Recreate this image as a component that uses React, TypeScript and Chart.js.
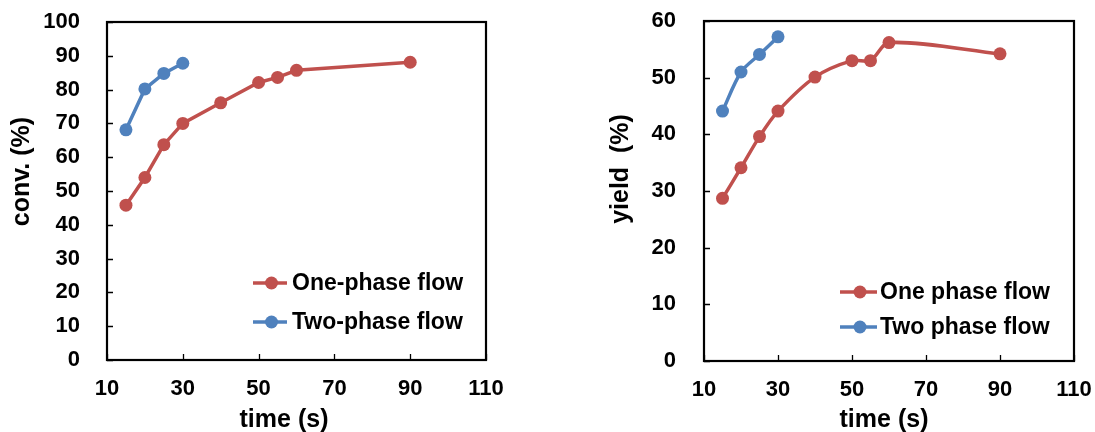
import React, { useEffect, useRef } from "react";
import { Chart, registerables } from "chart.js";

Chart.register(...registerables);

// ---------- data ----------
const timeOnePhase = [15, 20, 25, 30, 40, 50, 55, 60, 90];
const timeTwoPhase = [15, 20, 25, 30];
const convOnePhase = [45.8, 54.0, 63.7, 70.0, 76.1, 82.1, 83.6, 85.7, 88.1];
const convTwoPhase = [68.1, 80.2, 84.8, 87.8];
const yieldOnePhase = [28.7, 34.1, 39.6, 44.1, 50.1, 53.0, 53.0, 56.2, 54.2];
const yieldTwoPhase = [44.1, 51.0, 54.1, 57.2];
const timeTicks = [10, 30, 50, 70, 90, 110];
const convTicks = [0, 10, 20, 30, 40, 50, 60, 70, 80, 90, 100];
const yieldTicks = [0, 10, 20, 30, 40, 50, 60];
const convLegend = ["One-phase flow", "Two-phase flow"];
const yieldLegend = ["One phase flow", "Two phase flow"];
const xTitle = "time (s)";
const convTitle = "conv. (%)";
const yieldTitle = "yield  (%)";

const RED = "#C0504D";
const BLUE = "#4F81BD";
const FONT = "'Liberation Sans', Arial, Helvetica, sans-serif";

type Panel = {
  canvasLeft: number;
  width: number;
  height: number;
  area: { left: number; top: number; right: number; bottom: number };
  yLabelPad: number;
  yTitle: string;
  yTitlePos: [number, number];
  xTitlePos: [number, number];
  legendLine: [number, number];
  legendMarkerX: number;
  legendTextX: number;
  legendRows: [number, number];
  legendLabels: string[];
  yTicks: number[];
  one: number[];
  two: number[];
  tension: number;
};

const panels: Panel[] = [
  {
    canvasLeft: 0,
    width: 540,
    height: 432,
    area: { left: 107, top: 22, right: 486, bottom: 360 },
    yLabelPad: 27,
    yTitle: convTitle,
    yTitlePos: [22, 171.5],
    xTitlePos: [284, 427],
    legendLine: [253, 287],
    legendMarkerX: 271.5,
    legendTextX: 292,
    legendRows: [283, 322],
    legendLabels: convLegend,
    yTicks: convTicks,
    one: convOnePhase,
    two: convTwoPhase,
    tension: 0,
  },
  {
    canvasLeft: 540,
    width: 555,
    height: 432,
    area: { left: 164, top: 21, right: 534, bottom: 361 },
    yLabelPad: 28,
    yTitle: yieldTitle,
    yTitlePos: [81.5, 169],
    xTitlePos: [344, 427],
    legendLine: [300, 337],
    legendMarkerX: 320,
    legendTextX: 340,
    legendRows: [292, 327],
    legendLabels: yieldLegend,
    yTicks: yieldTicks,
    one: yieldOnePhase,
    two: yieldTwoPhase,
    tension: 0.3,
  },
];

function makeDecorPlugin(p: Panel) {
  return {
    id: "decor",
    beforeDatasetsDraw(chart: any) {
      const ctx = chart.ctx;
      const { left, top, right, bottom } = chart.chartArea;
      const xs = chart.scales.x;
      const ys = chart.scales.y;
      ctx.save();
      // inward tick marks
      ctx.strokeStyle = "#000";
      ctx.lineWidth = 1.3;
      ctx.beginPath();
      xs.ticks.forEach((t: any) => {
        const px = Math.round(xs.getPixelForValue(t.value)) + 0.5;
        ctx.moveTo(px, bottom);
        ctx.lineTo(px, bottom - 6);
      });
      ys.ticks.forEach((t: any) => {
        const py = Math.round(ys.getPixelForValue(t.value)) + 0.5;
        ctx.moveTo(left, py);
        ctx.lineTo(left + 6, py);
      });
      ctx.stroke();
      // plot frame
      ctx.lineWidth = 2.2;
      ctx.strokeRect(left, top, right - left, bottom - top);
      ctx.restore();
    },
    afterDraw(chart: any) {
      const ctx = chart.ctx;
      ctx.save();
      ctx.fillStyle = "#000";
      // axis titles
      ctx.font = `bold 25px ${FONT}`;
      ctx.textAlign = "center";
      ctx.textBaseline = "alphabetic";
      ctx.fillText(xTitle, p.xTitlePos[0], p.xTitlePos[1]);
      ctx.save();
      ctx.translate(p.yTitlePos[0], p.yTitlePos[1]);
      ctx.rotate(-Math.PI / 2);
      ctx.textBaseline = "middle";
      ctx.fillText(p.yTitle, 0, 0);
      ctx.restore();
      // legend
      const ds = chart.data.datasets;
      ds.forEach((d: any, i: number) => {
        const y = p.legendRows[i];
        ctx.strokeStyle = d.borderColor;
        ctx.lineWidth = 3.5;
        ctx.beginPath();
        ctx.moveTo(p.legendLine[0], y);
        ctx.lineTo(p.legendLine[1], y);
        ctx.stroke();
        ctx.fillStyle = d.borderColor;
        ctx.beginPath();
        ctx.arc(p.legendMarkerX, y, 6.5, 0, Math.PI * 2);
        ctx.fill();
        ctx.fillStyle = "#000";
        ctx.font = `bold 23px ${FONT}`;
        ctx.textAlign = "left";
        ctx.textBaseline = "middle";
        ctx.fillText(d.label, p.legendTextX, y + 1);
      });
      ctx.restore();
    },
  };
}

function PanelChart({ p }: { p: Panel }) {
  const ref = useRef<HTMLCanvasElement | null>(null);
  useEffect(() => {
    if (!ref.current) return;
    const mk = (xs: number[], ys: number[]) => xs.map((x, i) => ({ x, y: ys[i] }));
    const chart = new Chart(ref.current, {
      type: "line",
      data: {
        datasets: [
          {
            label: p.legendLabels[0],
            data: mk(timeOnePhase, p.one),
            borderColor: RED,
            backgroundColor: RED,
            pointBackgroundColor: RED,
            pointBorderColor: RED,
            pointBorderWidth: 0,
            pointRadius: 6.5,
            borderWidth: 3.5,
            tension: p.tension,
            fill: false,
          },
          {
            label: p.legendLabels[1],
            data: mk(timeTwoPhase, p.two),
            borderColor: BLUE,
            backgroundColor: BLUE,
            pointBackgroundColor: BLUE,
            pointBorderColor: BLUE,
            pointBorderWidth: 0,
            pointRadius: 6.5,
            borderWidth: 3.5,
            tension: p.tension,
            fill: false,
          },
        ],
      },
      options: {
        responsive: false,
        animation: false,
        devicePixelRatio: 1,
        layout: {
          padding: {
            left: 0,
            top: p.area.top,
            right: p.width - p.area.right,
            bottom: 0,
          },
        },
        plugins: {
          legend: { display: false },
          tooltip: { enabled: false },
        },
        scales: {
          x: {
            type: "linear",
            min: timeTicks[0],
            max: timeTicks[timeTicks.length - 1],
            afterBuildTicks: (s: any) => {
              s.ticks = timeTicks.map((v) => ({ value: v }));
            },
            afterFit: (s: any) => {
              s.height = p.height - p.area.bottom;
              s.paddingLeft = 0;
              s.paddingRight = 0;
              s.paddingTop = 0;
              s.paddingBottom = 0;
            },
            grid: { display: false, drawTicks: false },
            border: { display: false },
            ticks: {
              color: "#000",
              padding: 18,
              maxRotation: 0,
              autoSkip: false,
              font: { family: FONT, size: 22, weight: "bold", lineHeight: 1 },
            },
          },
          y: {
            type: "linear",
            min: p.yTicks[0],
            max: p.yTicks[p.yTicks.length - 1],
            afterBuildTicks: (s: any) => {
              s.ticks = p.yTicks.map((v) => ({ value: v }));
            },
            afterFit: (s: any) => {
              s.width = p.area.left;
              s.paddingLeft = 0;
              s.paddingRight = 0;
              s.paddingTop = 0;
              s.paddingBottom = 0;
            },
            grid: { display: false, drawTicks: false },
            border: { display: false },
            ticks: {
              color: "#000",
              padding: p.yLabelPad,
              autoSkip: false,
              font: { family: FONT, size: 22, weight: "bold", lineHeight: 1 },
            },
          },
        },
      },
      plugins: [makeDecorPlugin(p)],
    } as any);
    return () => chart.destroy();
  }, [p]);
  return (
    <canvas
      ref={ref}
      width={p.width}
      height={p.height}
      style={{
        position: "absolute",
        left: p.canvasLeft,
        top: 0,
        width: p.width,
        height: p.height,
        display: "block",
      }}
    />
  );
}

export default function App() {
  return (
    <div
      style={{
        position: "absolute",
        left: 0,
        top: 0,
        width: 1095,
        height: 432,
        background: "#fff",
        overflow: "hidden",
      }}
    >
      {panels.map((p, i) => (
        <PanelChart key={i} p={p} />
      ))}
    </div>
  );
}
